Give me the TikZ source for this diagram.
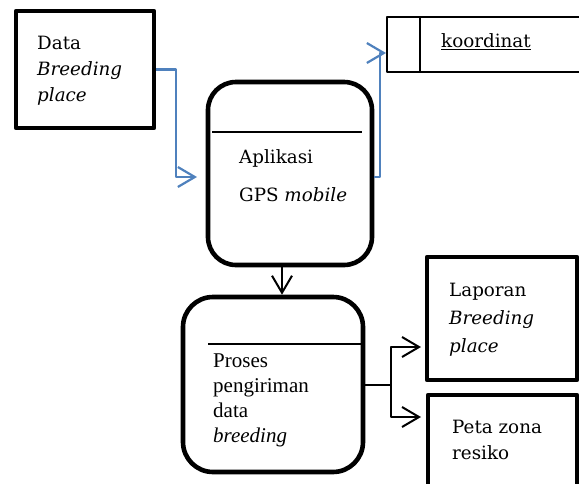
\documentclass[tikz,border=0pt]{standalone}
\usepackage{fontspec}
\setmainfont{DejaVu Serif}
\newfontfamily\timesfont{Liberation Serif}
\usetikzlibrary{arrows.meta}
\definecolor{biruword}{RGB}{79,129,189}

\begin{document}
\begin{tikzpicture}[x=1pt, y=-1pt, >={Straight Barb[length=17pt,width=20pt]},
    line join=round,
    kotak/.style={draw, line width=4.6pt, inner sep=0pt},
    bulat/.style={kotak, rounded corners=28pt},
    teks/.style={anchor=west, align=left, inner sep=0pt,
        font=\fontsize{18.3}{26}\selectfont},
    alur/.style={->, line width=2.2pt, color=biruword},
    panah/.style={->, line width=2pt},
    tipis/.style={line width=1.6pt}]

\useasboundingbox (0,0) rectangle (579,483);

% Entitas dan proses
\node[kotak, minimum width=138pt, minimum height=117pt] (data) at (85,69.5) {};
\node[bulat, minimum width=164pt, minimum height=183pt] (app) at (290,173.5) {};
\node[bulat, rounded corners=30pt, minimum width=180pt, minimum height=175pt] (proc) at (273,384.5) {};
\node[kotak, minimum width=150pt, minimum height=123pt] (lap) at (502,318.5) {};
\node[kotak, minimum width=149pt, minimum height=100pt] (peta) at (502.5,445) {};

% Garis pemisah
\draw[tipis] (212,132) -- (362,132);
\draw[tipis] (208,344) -- (proc.east |- 0,344);

% Data store
\draw[tipis] (600,17) -- (387,17) -- (387,72) -- (600,72);
\draw[tipis] (420,17) -- (420,72);
\coordinate (simpan) at (386,53);

% Teks
\node[teks] (tdata) at (37,71) {Data\\\textit{Breeding}\\\textit{place}};
\node[teks] (tapp) at (239,176) {Aplikasi\\[12pt]GPS \textit{mobile}};
\node[teks, font=\timesfont\fontsize{21}{25}\selectfont] (tproc) at (213,400)
    {Proses\\pengiriman\\data\\\textit{breeding}};
\node[teks, font=\fontsize{18.3}{28}\selectfont] (tlap) at (449,320)
    {Laporan\\\textit{Breeding}\\\textit{place}};
\node[teks] (tpeta) at (452,440) {Peta zona\\resiko};
\node[teks] (koord) at (441,42) {\underline{koordinat}};

% Alur
\coordinate (masuk) at (197,177);
\draw[alur] (data.east) -- ++(20,0) |- (masuk);
\draw[alur] (app.east |- masuk) -- ++(6,0) |- (simpan);
\draw[panah] ([xshift=-8pt]app.south) -- ([xshift=-8pt]app.south |- proc.north);

% Percabangan
\coordinate (cabang) at (391,385);
\coordinate (keLap) at (421,347);
\coordinate (kePeta) at (421,417);
\draw[line width=2pt] (proc.east |- cabang) -- (cabang);
\draw[panah] (cabang) |- (keLap);
\draw[panah] (cabang) |- (kePeta);

\end{tikzpicture}
\end{document}
